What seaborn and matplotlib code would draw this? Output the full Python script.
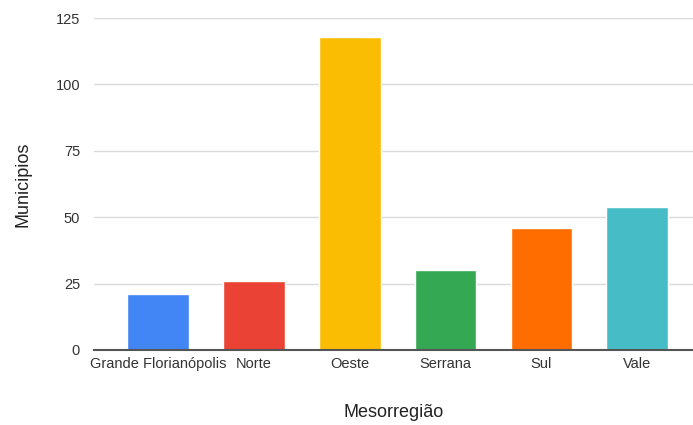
import matplotlib
matplotlib.use("Agg")
import matplotlib.pyplot as plt
import seaborn as sns

regioes = ["Grande Florianópolis", "Norte", "Oeste", "Serrana", "Sul", "Vale"]
municipios = [21, 26, 118, 30, 46, 54]
cores = ["#4285F4", "#EA4335", "#FBBC04", "#34A853", "#FF6D01", "#46BDC6"]
y_ticks = [0, 25, 50, 75, 100, 125]

sns.set_theme(style="white")
plt.rcParams["font.family"] = ["Liberation Sans", "DejaVu Sans"]

fig = plt.figure(figsize=(6.93, 4.25), dpi=100)
ax = fig.add_axes([0.1356, 0.1765, 0.8644, 0.7811])

sns.barplot(x=regioes, y=municipios, hue=regioes, palette=cores, width=0.645,
            saturation=1, legend=False, ax=ax, zorder=3)

ax.set_ylim(0, 125)
ax.set_xlim(-0.665, 5.58)
ax.set_yticks(y_ticks)
ax.grid(axis="y", color="#dadada", linewidth=1, zorder=0)
for s in ["top", "right", "left"]:
    ax.spines[s].set_visible(False)
ax.spines["bottom"].set_color("#555555")
ax.spines["bottom"].set_linewidth(1.5)
ax.spines["bottom"].set_zorder(4)
ax.tick_params(axis="both", length=0, labelsize=10.5, colors="#333333", pad=5)
ax.tick_params(axis="y", pad=10)

ax.set_xlabel("Mesorregião", fontsize=13, color="#222222", labelpad=24)
ax.set_ylabel("Municipios", fontsize=13, color="#222222", labelpad=17)

fig.savefig("out.png", dpi=100)
